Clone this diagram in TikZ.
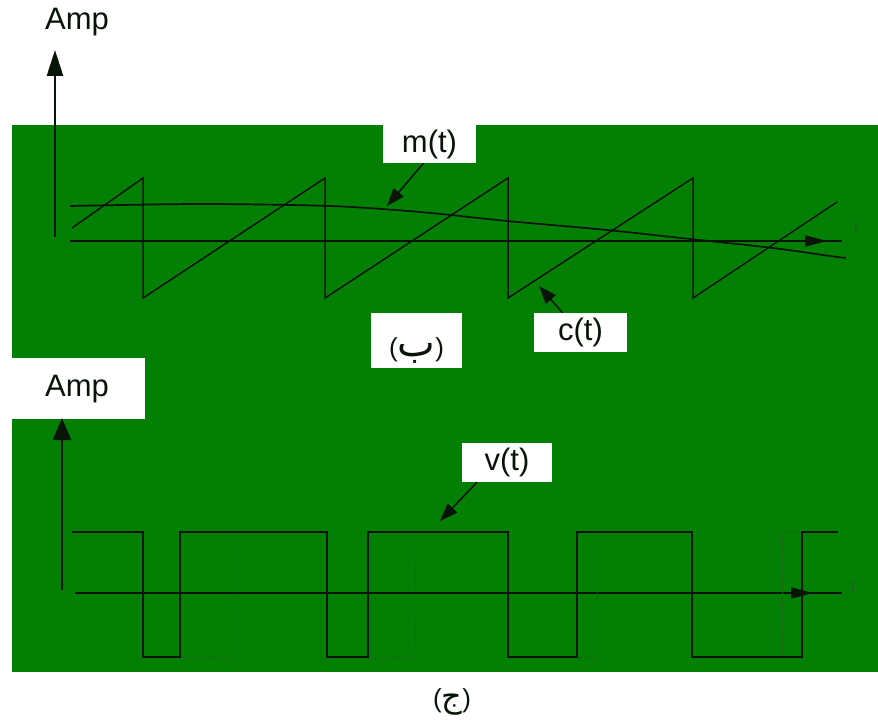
\documentclass[tikz,border=0pt]{standalone}
\usepackage{fontspec}
\setmainfont{Liberation Sans}
\newfontfamily\arabicfont[Script=Arabic]{DejaVu Sans}
\TeXXeTstate=1
\usetikzlibrary{arrows.meta}
\definecolor{bggreen}{RGB}{3,128,3}
\definecolor{ink}{RGB}{8,20,8}
\definecolor{faint}{RGB}{30,95,30}
\begin{document}
\begin{tikzpicture}[x=1pt,y=-1pt,
  wbox/.style={fill=white,draw=none,inner sep=0pt},
  lbl/.style={font=\fontsize{31}{33}\selectfont,text=ink,inner sep=0pt},
  arlbl/.style={font=\fontsize{26}{28}\selectfont,text=ink,inner sep=0pt},
  wave/.style={draw=ink,line width=1.5pt,line join=miter},
  axisv/.style={draw=ink,line width=2.6pt,-{Triangle[length=26pt,width=16pt]}},
  axish/.style={draw=ink,line width=2pt},
  hhead/.style={draw=ink,line width=2pt,-{Triangle[length=22pt,width=11pt]}},
  ptr/.style={draw=ink,line width=1.6pt,-{Triangle[length=18pt,width=13pt]}},
  guideline/.style={draw=faint,line width=1pt,dash pattern=on 4pt off 3pt},
  tlbl/.style={font=\fontsize{15}{16}\selectfont,text=faint,inner sep=0pt}]
\useasboundingbox (0,0) rectangle (878,727);
\fill[white] (0,0) rectangle (878,727);
% green panel
\fill[bggreen] (12,125) rectangle (878,672);
% white label boxes
\node[wbox,minimum width=93pt,minimum height=38pt] (mbox) at (429.5,144) {};
\node[lbl] (mlbl) at (mbox.center) {m(t)};
\node[wbox,minimum width=93pt,minimum height=39pt] (cbox) at (580.5,332.5) {};
\node[lbl] (clbl) at (cbox.center) {c(t)};
\node[wbox,minimum width=91pt,minimum height=55pt] (bbox) at (416.5,340.5) {};
\node[arlbl] (blbl) at (416.5,350) {({\arabicfont\fontsize{40}{42}\selectfont\beginR ب\endR})};
\node[wbox,minimum width=90pt,minimum height=39pt] (vbox) at (507,462.5) {};
\node[lbl] (vlbl) at (vbox.center) {v(t)};
\node[wbox,minimum width=145pt,minimum height=61pt] (abox) at (72.5,388.5) {};
\node[lbl] (amp2) at (77,389) {Amp};
\node[lbl] (amp1) at (77,22) {Amp};
\node[arlbl] (jlbl) at (452,702) {({\arabicfont\fontsize{32}{34}\selectfont\beginR ج\endR})};
% ---------- upper plot ----------
\coordinate (o1) at (55,237);
\coordinate (y1) at (55,50);
\draw[axisv] (o1) -- (y1);
\coordinate (x1a) at (70,241);
\coordinate (x1b) at (842,241);
\draw[axish] (x1a) -- (x1b);
\coordinate (x1h) at (790,241);
\coordinate (x1t) at (827,241);
\draw[hhead] (x1h) -- (x1t);
\node[tlbl] (t1) at (856,228) {t};
% sawtooth c(t)
\draw[wave] (72,228) -- (143,178) -- (143,298) -- (325,178) -- (325,298)
  -- (508,178) -- (508,298) -- (693,178) -- (693,298) -- (837,202);
% message m(t)
\draw[wave,line width=1.7pt] plot[smooth] coordinates {(70,206) (200,204) (330,206) (420,212)
  (507,221) (607,230) (690,239) (773,248) (830,256) (846,258)};
% pointers
\coordinate (mtip) at (387,206);
\draw[ptr] ([xshift=-6pt]mbox.south) -- (mtip);
\coordinate (ctip) at (539,286);
\draw[ptr] ([xshift=-18pt]cbox.north) -- (ctip);
% ---------- lower plot ----------
\coordinate (o2) at (62,590);
\coordinate (y2) at (62,418);
\draw[axisv,-{Triangle[length=22pt,width=18pt]}] (o2) -- (y2);
\coordinate (x2a) at (75,593);
\coordinate (x2b) at (842,593);
\draw[axish] (x2a) -- (x2b);
\coordinate (x2h) at (775,593);
\coordinate (x2t) at (813,593);
\draw[hhead] (x2h) -- (x2t);
\node[tlbl] (t2) at (853,587) {t};
% dashed guides
\draw[guideline] (180,657) -- (233,657) -- (233,540);
\draw[guideline] (368,657) -- (415,657) -- (415,532);
\draw[guideline] (577,657) -- (597,657) -- (597,535);
\draw[guideline] (782,657) -- (782,532) -- (802,532);
% square wave v(t)
\draw[wave] (72,532) -- (143,532) -- (143,657) -- (180,657) -- (180,532)
  -- (327,532) -- (327,657) -- (368,657) -- (368,532) -- (508,532)
  -- (508,657) -- (577,657) -- (577,532) -- (692,532) -- (692,657)
  -- (802,657) -- (802,532) -- (838,532);
\coordinate (vtip) at (440,521);
\draw[ptr] ([xshift=-30pt]vbox.south) -- (vtip);
\end{tikzpicture}
\end{document}
